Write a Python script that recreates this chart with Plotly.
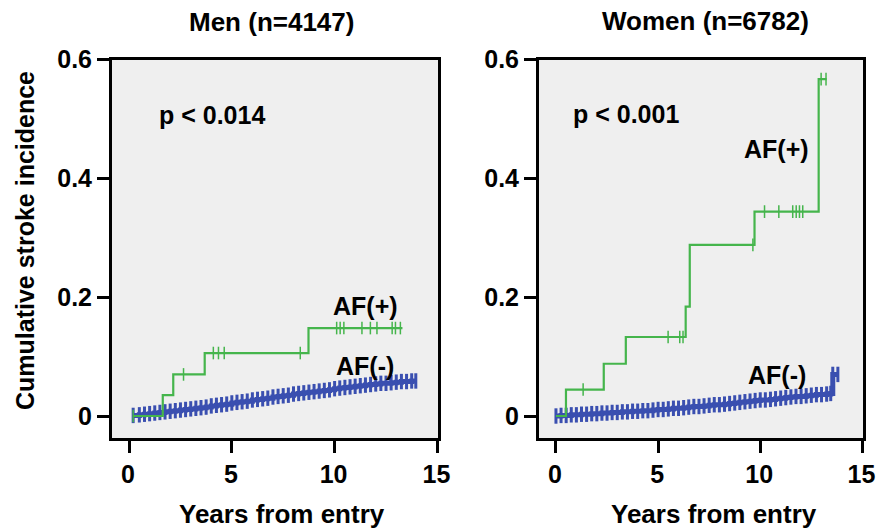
import plotly.graph_objects as go

W, H = 877, 528
GREEN = "#45b54c"
BLUE = "#3a4fb0"
FONT = "Liberation Sans, Arial, Helvetica, sans-serif"

def px(x):
    return x / W

def py(y):
    return (H - y) / H

# ---------------- data ----------------
panel_titles = ["Men (n=4147)", "Women (n=6782)"]
p_labels = ["p < 0.014", "p < 0.001"]
x_tick_vals = [0, 5, 10, 15]
x_tick_text = ["0", "5", "10", "15"]
y_tick_vals = [0, 0.2, 0.4, 0.6]
y_tick_text = ["0", "0.2", "0.4", "0.6"]

# Men, AF(+) step curve
men_af_pos_t = [0.2, 1.64, 2.15, 3.68, 8.73, 13.3]
men_af_pos_v = [0.0, 0.035, 0.070, 0.106, 0.148, 0.148]
men_af_pos_cens_t = [0.2, 2.65, 4.10, 4.35, 4.63, 8.33, 10.1, 10.27, 10.45,
                     11.33, 11.74, 12.06, 12.8, 12.96, 13.2]
men_af_pos_cens_v = [0.0, 0.070, 0.106, 0.106, 0.106, 0.106, 0.148, 0.148, 0.148,
                     0.148, 0.148, 0.148, 0.148, 0.148, 0.148]

# Men, AF(-) curve (read along the band)
men_af_neg_t = [0.2, 0.5, 0.75, 1.0, 1.25, 1.5, 1.75, 2.0, 2.25, 2.5, 2.75, 3.0,
                3.25, 3.5, 3.75, 4.0, 4.25, 4.5, 4.75, 5.0, 5.25, 5.5, 5.75, 6.0,
                6.25, 6.5, 6.75, 7.0, 7.25, 7.5, 7.75, 8.0, 8.25, 8.5, 8.75, 9.0,
                9.25, 9.5, 9.75, 10.0, 10.25, 10.5, 10.75, 11.0, 11.25, 11.5, 11.75,
                12.0, 12.25, 12.5, 12.75, 13.0, 13.25, 13.5, 13.75, 13.95]
men_af_neg_v = [0.001, 0.002, 0.003, 0.004, 0.005, 0.006, 0.007, 0.008, 0.009, 0.010,
                0.011, 0.012, 0.013, 0.014, 0.015, 0.017, 0.018, 0.019, 0.020, 0.022,
                0.023, 0.024, 0.025, 0.027, 0.028, 0.029, 0.030, 0.032, 0.033, 0.034,
                0.035, 0.037, 0.038, 0.039, 0.040, 0.041, 0.042, 0.043, 0.044, 0.046,
                0.047, 0.048, 0.049, 0.050, 0.051, 0.052, 0.053, 0.054, 0.055, 0.055,
                0.056, 0.057, 0.058, 0.058, 0.059, 0.059]

# Women, AF(+) step curve
wom_af_pos_t = [0.0, 0.49, 2.34, 3.42, 6.35, 6.55, 9.72, 12.86, 13.25]
wom_af_pos_v = [0.0, 0.0445, 0.088, 0.133, 0.184, 0.288, 0.344, 0.567, 0.567]
wom_af_pos_cens_t = [1.33, 5.49, 6.06, 6.22, 9.64, 10.21, 10.91, 11.59, 11.76,
                     11.92, 12.08, 12.98, 13.22]
wom_af_pos_cens_v = [0.0445, 0.133, 0.133, 0.133, 0.288, 0.344, 0.344, 0.344, 0.344,
                     0.344, 0.344, 0.567, 0.567]

# Women, AF(-) curve
wom_af_neg_t = [0.0, 0.25, 0.5, 0.75, 1.0, 1.25, 1.5, 1.75, 2.0, 2.25, 2.5, 2.75,
                3.0, 3.25, 3.5, 3.75, 4.0, 4.25, 4.5, 4.75, 5.0, 5.25, 5.5, 5.75,
                6.0, 6.25, 6.5, 6.75, 7.0, 7.25, 7.5, 7.75, 8.0, 8.25, 8.5, 8.75,
                9.0, 9.25, 9.5, 9.75, 10.0, 10.25, 10.5, 10.75, 11.0, 11.25, 11.5,
                11.75, 12.0, 12.25, 12.5, 12.75, 13.0, 13.25, 13.45, 13.55, 13.8]
wom_af_neg_v = [0.000, 0.001, 0.001, 0.002, 0.002, 0.003, 0.003, 0.004, 0.004, 0.005,
                0.005, 0.006, 0.006, 0.007, 0.007, 0.008, 0.008, 0.009, 0.009, 0.010,
                0.011, 0.011, 0.012, 0.013, 0.013, 0.014, 0.015, 0.016, 0.016, 0.017,
                0.018, 0.019, 0.019, 0.020, 0.021, 0.022, 0.023, 0.024, 0.025, 0.026,
                0.027, 0.027, 0.028, 0.029, 0.030, 0.031, 0.032, 0.033, 0.033, 0.034,
                0.035, 0.036, 0.036, 0.037, 0.038, 0.070, 0.070]

# ---------------- figure ----------------
fig = go.Figure()

def add_panel(xa, ya, neg_t, neg_v, pos_t, pos_v, cens_t, cens_v):
    fig.add_trace(go.Scatter(
        x=neg_t, y=neg_v, xaxis=xa, yaxis=ya, mode="lines+markers",
        line=dict(color=BLUE, width=5, shape="hv"),
        marker=dict(symbol="line-ns", size=11, color=BLUE,
                    line=dict(color=BLUE, width=3)),
        showlegend=False, hoverinfo="skip"))
    fig.add_trace(go.Scatter(
        x=pos_t, y=pos_v, xaxis=xa, yaxis=ya, mode="lines",
        line=dict(color=GREEN, width=2.2, shape="hv"),
        showlegend=False, hoverinfo="skip"))
    fig.add_trace(go.Scatter(
        x=cens_t, y=cens_v, xaxis=xa, yaxis=ya, mode="markers",
        marker=dict(symbol="line-ns", size=9, color=GREEN,
                    line=dict(color=GREEN, width=1.5)),
        showlegend=False, hoverinfo="skip"))

add_panel("x", "y", men_af_neg_t, men_af_neg_v, men_af_pos_t, men_af_pos_v,
          men_af_pos_cens_t, men_af_pos_cens_v)
add_panel("x2", "y2", wom_af_neg_t, wom_af_neg_v, wom_af_pos_t, wom_af_pos_v,
          wom_af_pos_cens_t, wom_af_pos_cens_v)

ydom = [py(438), py(59.5)]
axis_common = dict(showgrid=False, zeroline=False, showline=True, mirror=True,
                   linecolor="black", linewidth=3, ticks="outside", ticklen=12,
                   tickwidth=3, tickcolor="black", automargin=False,
                   tickfont=dict(family=FONT, size=25, color="black", weight="bold"))
xcommon = dict(axis_common, range=[-0.83, 15.03], tickvals=x_tick_vals,
               ticktext=x_tick_text, ticklabelshift=-1)
ycommon = dict(axis_common, range=[-0.037, 0.6], tickvals=y_tick_vals,
               ticktext=y_tick_text)

fig.update_layout(
    width=W, height=H, autosize=False,
    margin=dict(l=0, r=0, t=0, b=0, pad=0),
    paper_bgcolor="white", plot_bgcolor="#efefef",
    xaxis=dict(xcommon, domain=[px(112), px(438)], anchor="y"),
    yaxis=dict(ycommon, domain=ydom, anchor="x"),
    xaxis2=dict(xcommon, domain=[px(539), px(863)], anchor="y2"),
    yaxis2=dict(ycommon, domain=ydom, anchor="x2"),
)

tf = dict(family=FONT, size=25, color="black", weight="bold")
ttf = dict(family=FONT, size=26, color="black", weight="bold")
ann = []
# panel titles
ann.append(dict(text=panel_titles[0], x=px(271), y=py(22), xref="paper", yref="paper",
                showarrow=False, font=ttf, xanchor="center", yanchor="middle"))
ann.append(dict(text=panel_titles[1], x=px(705), y=py(21), xref="paper", yref="paper",
                showarrow=False, font=ttf, xanchor="center", yanchor="middle"))
# x titles
for xc in (281.5, 714):
    ann.append(dict(text="Years from entry", x=px(xc), y=py(514), xref="paper",
                    yref="paper", showarrow=False, font=ttf, xanchor="center",
                    yanchor="middle"))
# y title
ann.append(dict(text="Cumulative stroke incidence", x=px(25), y=py(241),
                xref="paper", yref="paper", showarrow=False, font=tf, textangle=-90,
                xanchor="center", yanchor="middle"))
# in-plot labels
ann += [
    dict(text=p_labels[0], x=4.04, y=0.506, xref="x", yref="y"),
    dict(text="AF(+)", x=11.5, y=0.185, xref="x", yref="y"),
    dict(text="AF(-)", x=11.5, y=0.084, xref="x", yref="y"),
    dict(text=p_labels[1], x=3.45, y=0.509, xref="x2", yref="y2"),
    dict(text="AF(+)", x=10.82, y=0.45, xref="x2", yref="y2"),
    dict(text="AF(-)", x=10.82, y=0.069, xref="x2", yref="y2"),
]
for a in ann[-6:]:
    a.update(showarrow=False, font=tf, xanchor="center", yanchor="middle")
fig.update_layout(annotations=ann)

# the page's default body margin would shift and clip the 877x528 figure
fig.write_html("out.html",
               config={"displayModeBar": False, "staticPlot": True},
               post_script="document.body.style.margin='0';"
                           "document.body.style.overflow='hidden';")
